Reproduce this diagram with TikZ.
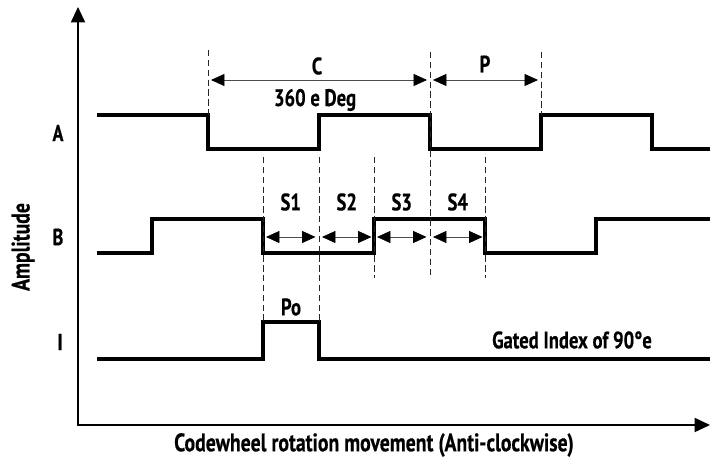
\documentclass[tikz,border=0pt]{standalone}
\usepackage{fontspec}
\setmainfont{PT Sans}[FakeStretch=0.78, BoldFeatures={FakeStretch=0.78, FakeBold=0.4}]
\usetikzlibrary{arrows.meta}

\begin{document}
\begin{tikzpicture}[x=0.025cm, y=0.025cm,
    lbl/.style={font=\bfseries\fontsize{17}{20}\selectfont},
    big/.style={font=\bfseries\fontsize{18}{21}\selectfont},
    chan/.style={font=\bfseries\fontsize{16.5}{19}\selectfont},
    axis/.style={line width=1.4pt, {Triangle[length=11pt,width=10pt]}-{Triangle[length=11pt,width=10pt]}},
    signal/.style={line width=2.4pt, line join=miter},
    guide/.style={line width=0.7pt, black!85, dash pattern=on 4.5pt off 2.5pt},
    dimarrow/.style={line width=0.5pt, black!70,
        {Triangle[length=9.5pt,width=8.5pt,color=black]}-{Triangle[length=9.5pt,width=8.5pt,color=black]}}]
    \useasboundingbox (0,0) rectangle (710,458);

    % axes
    \coordinate (ytop) at (78,451);
    \coordinate (origin) at (78,33);
    \coordinate (xend) at (710,33);
    \draw[axis] (ytop) -- (origin) -- (xend);
    \node[big, rotate=90] (amp) at (23,211) {Amplitude};
    \node[big] (xlabel) at (374,13) {Codewheel rotation movement (Anti-clockwise)};

    % channel names
    \node[chan] (lblA) at (58,325) {A};
    \node[chan] (lblB) at (58,221) {B};
    \node[chan] (lblI) at (60,116) {I};

    % channel A
    \draw[signal] (97,343) -- (208,343) -- (208,309) -- (319,309) -- (319,343)
        -- (430,343) -- (430,309) -- (541,309) -- (541,343) -- (652,343)
        -- (652,309) -- (710,309);

    % channel B
    \draw[signal] (97,205) -- (152,205) -- (152,239) -- (263,239) -- (263,205)
        -- (374,205) -- (374,239) -- (485,239) -- (485,205) -- (596,205)
        -- (596,239) -- (710,239);

    % index channel
    \draw[signal] (97,99) -- (263,99) -- (263,136) -- (319,136) -- (319,99)
        -- (710,99);

    % guide lines
    \draw[guide] (208,408) -- (208,343);
    \draw[guide] (541,406) -- (541,343);
    \draw[guide] (430,406) -- (430,180);
    \foreach \x in {374,485}
        \draw[guide] (\x,301) -- (\x,180);
    \foreach \x in {263,319}
        \draw[guide] (\x,301) -- (\x,136);

    % cycle and pulse width
    \coordinate (cL) at (211,378);
    \coordinate (cR) at (427,378);
    \draw[dimarrow] (cL) -- (cR);
    \node[lbl] (lblC) at (317,392) {C};
    \node[lbl] (lblDeg) at (315,358) {360 e Deg};

    \coordinate (pL) at (433,378);
    \coordinate (pR) at (538,378);
    \draw[dimarrow] (pL) -- (pR);
    \node[lbl] (lblP) at (485,394) {P};

    % states
    \foreach \i/\x in {1/263,2/319,3/374,4/430} {
        \coordinate (s\i L) at (\x+3,221);
        \coordinate (s\i R) at (\x+52.5,221);
        \draw[dimarrow] (s\i L) -- (s\i R);
        \node[lbl] (lblS\i) at (\x+27.75,256) {S\i};
    }

    % index pulse
    \node[lbl] (lblPo) at (291,151) {Po};
    \node[lbl] (lblGate) at (572,118) {Gated Index of 90°e};
\end{tikzpicture}
\end{document}
